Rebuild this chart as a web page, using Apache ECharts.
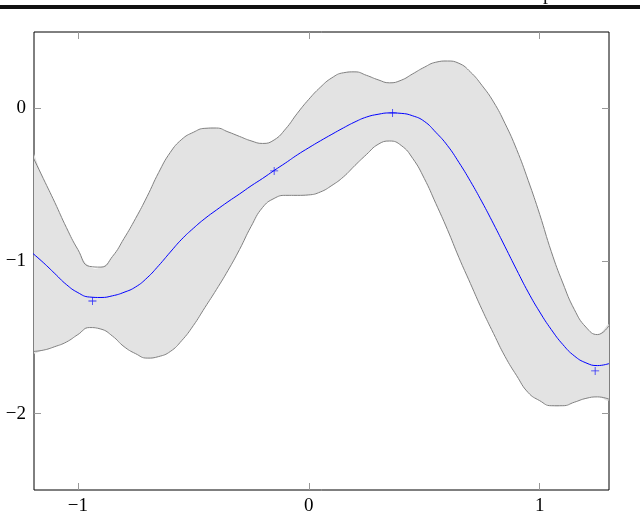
<!DOCTYPE html>
<html>
<head>
<meta charset="utf-8">
<script src="https://cdn.jsdelivr.net/npm/echarts@6/dist/echarts.min.js"></script>
<style>
  html, body { margin: 0; padding: 0; background: #fff; }
  #root1 { width: 640px; height: 513px; }
</style>
</head>
<body>
<div id="root1"></div>
<script>
// sample positions along x
const xs = [-1.2, -1.15, -1.1, -1.05, -1.0, -0.95, -0.9, -0.85, -0.8, -0.75, -0.7, -0.65, -0.6, -0.55, -0.5,
  -0.45, -0.4, -0.35, -0.3, -0.25, -0.2, -0.15, -0.1, -0.05, 0, 0.05, 0.1, 0.15, 0.2, 0.25, 0.3, 0.35, 0.4,
  0.45, 0.5, 0.55, 0.6, 0.65, 0.7, 0.75, 0.8, 0.85, 0.9, 0.95, 1.0, 1.05, 1.1, 1.15, 1.2, 1.25, 1.3];

const upper = [-0.302, -0.459, -0.616, -0.780, -0.925, -1.035, -1.040, -0.970, -0.852, -0.721, -0.577, -0.420,
  -0.289, -0.203, -0.157, -0.131, -0.129, -0.154, -0.184, -0.213, -0.230, -0.207, -0.134, -0.033, 0.059, 0.138,
  0.200, 0.233, 0.239, 0.216, 0.187, 0.167, 0.184, 0.226, 0.269, 0.302, 0.310, 0.295, 0.238, 0.150, 0.042,
  -0.100, -0.269, -0.472, -0.695, -0.938, -1.144, -1.318, -1.433, -1.482, -1.423];

const mean = [-0.944, -1.010, -1.082, -1.154, -1.207, -1.236, -1.239, -1.228, -1.205, -1.170, -1.110, -1.030,
  -0.942, -0.857, -0.786, -0.722, -0.666, -0.612, -0.561, -0.508, -0.459, -0.407, -0.357, -0.305, -0.258, -0.213,
  -0.170, -0.128, -0.089, -0.057, -0.039, -0.030, -0.033, -0.049, -0.085, -0.157, -0.243, -0.354, -0.478, -0.613,
  -0.757, -0.907, -1.058, -1.204, -1.334, -1.449, -1.547, -1.622, -1.667, -1.685, -1.672];

const lower = [-1.593, -1.584, -1.561, -1.531, -1.482, -1.436, -1.446, -1.492, -1.561, -1.607, -1.636, -1.626,
  -1.593, -1.521, -1.423, -1.305, -1.187, -1.062, -0.925, -0.774, -0.649, -0.590, -0.570, -0.570, -0.567, -0.548,
  -0.505, -0.449, -0.374, -0.302, -0.236, -0.214, -0.243, -0.328, -0.459, -0.623, -0.793, -0.977, -1.148, -1.318,
  -1.475, -1.626, -1.751, -1.862, -1.915, -1.948, -1.948, -1.925, -1.900, -1.890, -1.905];

// observed points (crosses)
const obsX = [-0.937, -0.150, 0.363, 1.240];
const obsY = [-1.262, -0.410, -0.030, -1.720];

const xTicks = [-1, 0, 1];
const yTicks = [-2, -1, 0];

const fmt = v => (v < 0 ? '\u2212' + Math.abs(v) : String(v));

const chartDom = document.getElementById('root1');
const myChart = echarts.init(chartDom);

const tickStyle = { show: true, inside: true, length: 7, lineStyle: { color: '#999', width: 1 } };
const labelFont = { fontFamily: 'Liberation Serif', fontSize: 19, color: '#000' };
const noLine = { show: false, onZero: false };
const SMOOTH = 0.5;

// band polygon: upper forward, lower backward
function renderBand(params, api) {
  const pts = [];
  for (let i = 0; i < xs.length; i++) pts.push(api.coord([xs[i], upper[i]]));
  for (let i = xs.length - 1; i >= 0; i--) pts.push(api.coord([xs[i], lower[i]]));
  return {
    type: 'polygon',
    shape: { points: pts, smooth: SMOOTH },
    style: { fill: '#e3e3e3', stroke: null }
  };
}

const option = {
  animation: false,
  grid: {
    left: 34, right: 31, top: 32, bottom: 23,
    outerBoundsMode: 'none',
    show: true, borderColor: '#000', borderWidth: 1, backgroundColor: 'transparent'
  },
  graphic: [
    { type: 'rect', shape: { x: 0, y: 5, width: 640, height: 4 }, style: { fill: '#111' } },
    { type: 'text', x: 543, y: -16, style: { text: 'p', font: '20px "Liberation Serif"', fill: '#111' } }
  ],
  xAxis: [{
    type: 'value', min: -1.19, max: 1.3, position: 'bottom',
    splitLine: { show: false }, axisLine: noLine,
    axisTick: Object.assign({ customValues: xTicks }, tickStyle),
    axisLabel: Object.assign({ customValues: xTicks, margin: 7, formatter: fmt }, labelFont)
  }, {
    type: 'value', min: -1.19, max: 1.3, position: 'top',
    splitLine: { show: false }, axisLine: noLine,
    axisTick: Object.assign({ customValues: xTicks }, tickStyle),
    axisLabel: { show: false }
  }],
  yAxis: [{
    type: 'value', min: -2.5, max: 0.5, position: 'left',
    splitLine: { show: false }, axisLine: noLine,
    axisTick: Object.assign({ customValues: yTicks }, tickStyle),
    axisLabel: Object.assign({ customValues: yTicks, margin: 8, formatter: fmt }, labelFont)
  }, {
    type: 'value', min: -2.5, max: 0.5, position: 'right',
    splitLine: { show: false }, axisLine: noLine,
    axisTick: Object.assign({ customValues: yTicks }, tickStyle),
    axisLabel: { show: false }
  }],
  series: [
    {
      name: 'band', type: 'custom', clip: true, silent: true,
      renderItem: renderBand,
      data: [[0, 0]]
    },
    {
      name: 'upper', type: 'line', smooth: SMOOTH, symbol: 'none',
      lineStyle: { color: '#808080', width: 1 },
      data: xs.map((x, i) => [x, upper[i]])
    },
    {
      name: 'lower', type: 'line', smooth: SMOOTH, symbol: 'none',
      lineStyle: { color: '#808080', width: 1 },
      data: xs.map((x, i) => [x, lower[i]])
    },
    {
      name: 'mean', type: 'line', smooth: SMOOTH, symbol: 'none',
      lineStyle: { color: '#0000ff', width: 1 },
      data: xs.map((x, i) => [x, mean[i]])
    },
    {
      name: 'obs', type: 'scatter',
      symbol: 'path://M0,4.5H10V5.5H0Z M4.5,0H5.5V10H4.5Z',
      symbolSize: 8,
      itemStyle: { color: '#0000ff' },
      data: obsX.map((x, i) => [x, obsY[i]])
    }
  ]
};

myChart.setOption(option);
</script>
</body>
</html>
